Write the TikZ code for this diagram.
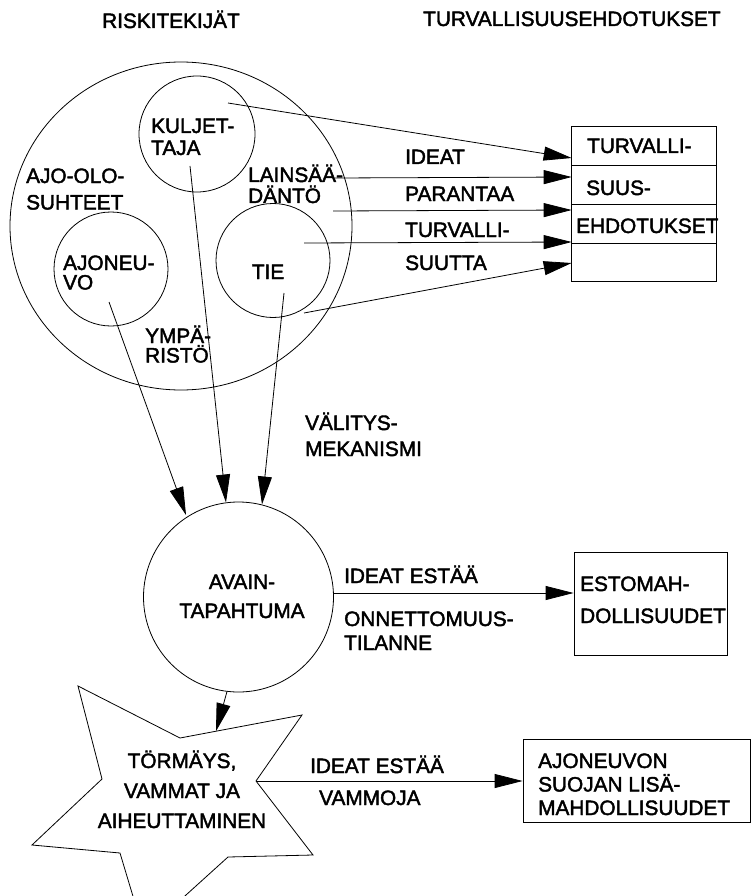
\documentclass[tikz,border=0pt]{standalone}
\usepackage{fontspec}
\setmainfont{Liberation Sans}[FakeBold=2]
\usetikzlibrary{arrows.meta,shapes.geometric}
\newcommand\fsz[1]{\fontsize{20.8pt}{#1pt}\selectfont}
\begin{document}
\begin{tikzpicture}[x=1pt,y=-1pt,
  ring/.style={circle,draw,line width=0.8pt,inner sep=0pt},
  lbl/.style={inner sep=0pt,anchor=base west,align=left},
  clbl/.style={inner sep=0pt,anchor=base,align=center},
  arr/.style={line width=0.8pt,-{Triangle[length=28pt,width=14pt]}},
  boxc/.style={draw,line width=0.8pt,inner sep=0pt,rectangle},
  edge/.style={line width=0.8pt,line join=miter}
]
\useasboundingbox (0,0) rectangle (751,896);
\clip (0,0) rectangle (751,896);

% headings
\node[lbl,font=\fsz{24}] (hrisk) at (102,28) {RISKITEKIJÄT};
\node[lbl,font=\fsz{24}] (hturv) at (423,26) {TURVALLISUUSEHDOTUKSET};

% risk factor circles
\node[ellipse,draw,line width=0.8pt,inner sep=0pt,minimum width=342pt,minimum height=328pt] (risk) at (181,226) {};
\node[ring,minimum size=116pt] (kulj) at (197,134) {};
\node[ring,minimum size=114pt] (ajon) at (111,269) {};
\node[ring,minimum size=114pt] (tie) at (273,260.5) {};

% (multi-line labels are placed at the baseline of their last line)
\node[lbl,font=\fsz{22}] (tkulj) at (151,155) {KULJET-\\TAJA};
\node[lbl,font=\fsz{26.5}] (tajo) at (26,209.5) {AJO-OLO-\\SUHTEET};
\node[lbl,font=\fsz{21}] (tlain) at (248,203) {LAINSÄÄ-\\DÄNTÖ};
\node[lbl,font=\fsz{19.5}] (tajon) at (63,289.5) {AJONEU-\\VO};
\node[clbl,font=\fsz{24}] (ttie) at (268,279) {TIE};
\node[lbl,font=\fsz{19.5}] (tymp) at (145,362.5) {YMPÄ-\\RISTÖ};

% proposal box
\node[boxc,minimum width=144.3pt,minimum height=38.75pt] (r1) at (643.85,146.08) {};
\node[boxc,minimum width=144.3pt,minimum height=38.75pt] (r2) at (643.85,184.83) {};
\node[boxc,minimum width=144.3pt,minimum height=38.75pt] (r3) at (643.85,223.58) {};
\node[boxc,minimum width=144.3pt,minimum height=38.75pt] (r4) at (643.85,262.33) {};
\node[lbl,font=\fsz{24}] (tr1) at (587,153) {TURVALLI-};
\node[lbl,font=\fsz{24}] (tr2) at (586,195) {SUUS-};
\node[lbl,font=\fsz{24}] (tr3) at (576,233) {EHDOTUKSET};

% labels on arrows to the box
\node[lbl,font=\fsz{24}] (lid) at (405,164) {IDEAT};
\node[lbl,font=\fsz{24}] (lpar) at (405,201) {PARANTAA};
\node[lbl,font=\fsz{24}] (ltur) at (405,237) {TURVALLI-};
\node[lbl,font=\fsz{24}] (lsuu) at (405,270) {SUUTTA};

% arrows to the box
\coordinate (s1) at (228,103);   \coordinate (t1) at (571.7,158);
\coordinate (s2) at (335,178);   \coordinate (t2) at (571.7,177);
\coordinate (s3) at (333,211);   \coordinate (t3) at (571.7,210);
\coordinate (s4) at (304,243);   \coordinate (t4) at (571.7,242);
\coordinate (s5) at (304,313);   \coordinate (t5) at (571.7,263);
\draw[arr] (s1) -- (t1);
\draw[arr] (s2) -- (t2);
\draw[arr] (s3) -- (t3);
\draw[arr] (s4) -- (t4);
\draw[arr] (s5) -- (t5);

% key event
\node[ring,minimum size=190pt] (avain) at (238.5,597) {};
\node[clbl,font=\fsz{29}] (tavain) at (242,618) {AVAIN-\\TAPAHTUMA};
\node[lbl,font=\fsz{26}] (tvalit) at (305,456) {VÄLITYS-\\MEKANISMI};

\coordinate (d1s) at (109,302); \coordinate (d1e) at (186,515);
\coordinate (d2s) at (190,166); \coordinate (d2e) at (226,502.5);
\coordinate (d3s) at (284,293); \coordinate (d3e) at (262,504.5);
\draw[arr] (d1s) -- (d1e);
\draw[arr] (d2s) -- (d2e);
\draw[arr] (d3s) -- (d3e);

% prevention box
\node[boxc,minimum width=153pt,minimum height=103pt] (esto) at (650.5,603.5) {};
\node[lbl,font=\fsz{32}] (testo) at (580,623) {ESTOMAH-\\DOLLISUUDET};
\node[lbl,font=\fsz{24}] (lid2) at (344,583) {IDEAT ESTÄÄ};
\node[lbl,font=\fsz{24}] (lonn) at (344,650) {ONNETTOMUUS-\\TILANNE};
\coordinate (h1s) at (333.5,593);
\draw[arr] (h1s) -- (esto.west |- h1s);

% collision star
\coordinate (p1) at (78,686);
\coordinate (p2) at (180,738);
\coordinate (p3) at (302,715);
\coordinate (p4) at (256,781);
\coordinate (p5) at (313,855);
\coordinate (p6) at (228,857);
\coordinate (p7) at (144,933);
\coordinate (p8) at (120,853);
\coordinate (p9) at (32,845);
\coordinate (p10) at (102,779);
\draw[edge] (p1) -- (p2) -- (p3) -- (p4) -- (p5) -- (p6) -- (p7) -- (p8) -- (p9) -- (p10) -- cycle;
\node[clbl,font=\fsz{30}] (tstar) at (182,828) {TÖRMÄYS,\\VAMMAT JA\\AIHEUTTAMINEN};

\coordinate (d4s) at (227,691.5); \coordinate (d4e) at (216,731.2);
\draw[arr] (d4s) -- (d4e);

% protection box
\node[boxc,minimum width=227pt,minimum height=83pt] (suoja) at (636.5,780.5) {};
\node[lbl,font=\fsz{23.5}] (tsuoja) at (538,815) {AJONEUVON\\SUOJAN LISÄ-\\MAHDOLLISUUDET};
\node[lbl,font=\fsz{24}] (lid3) at (310,773) {IDEAT ESTÄÄ};
\node[lbl,font=\fsz{24}] (lvam) at (319,805) {VAMMOJA};
\draw[arr] (p4) -- (suoja.west |- p4);
\end{tikzpicture}
\end{document}
